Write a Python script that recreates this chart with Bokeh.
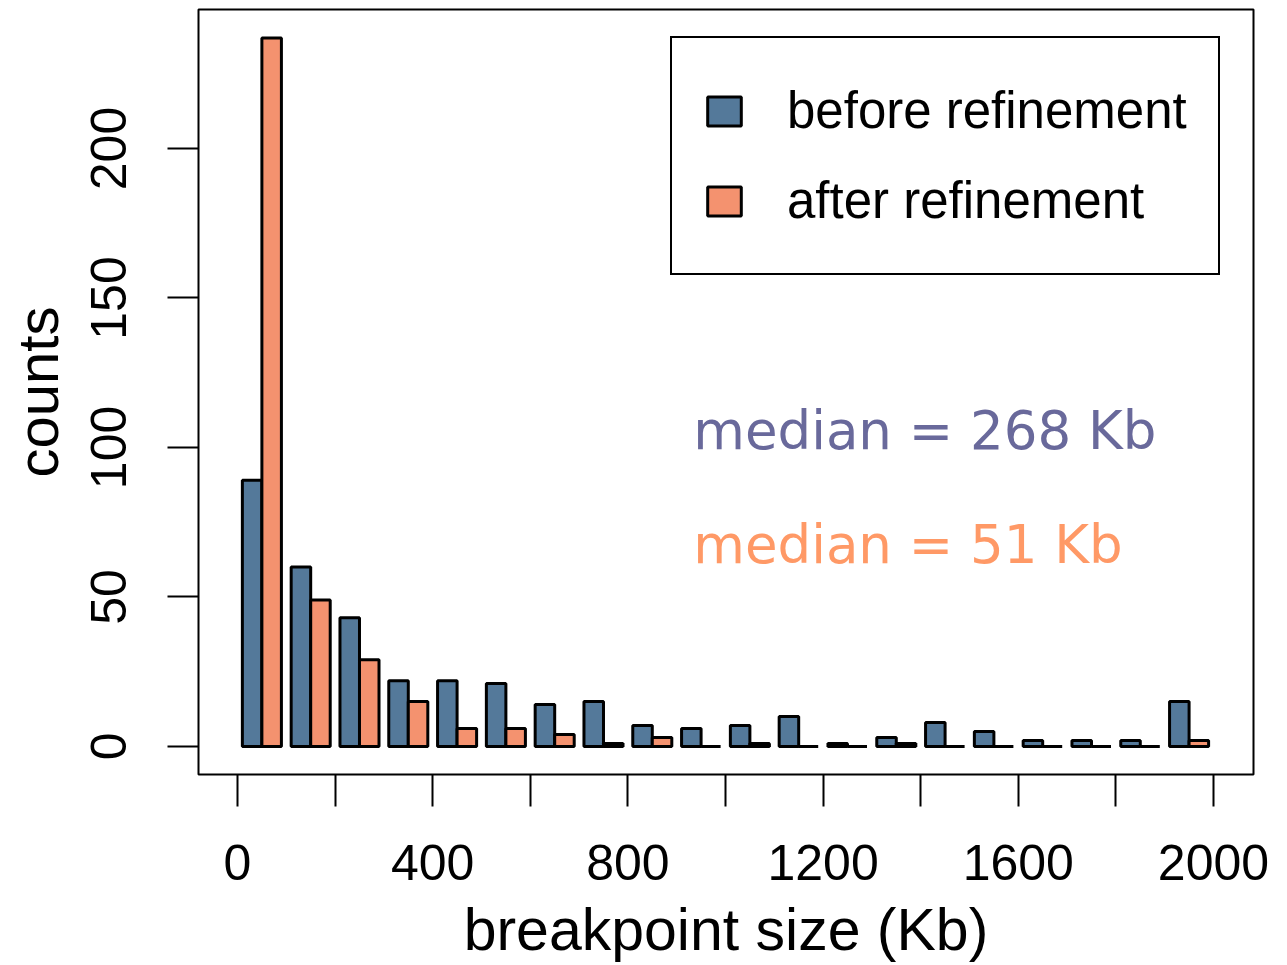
from bokeh.plotting import figure
from bokeh.models import Range1d, FixedTicker, Label
from bokeh.embed import file_html
from bokeh.resources import INLINE

# ---- data ----
bin_starts = list(range(0, 2000, 100))          # 100 Kb bins, 0..1900
before = [89, 60, 43, 22, 22, 21, 14, 15, 7, 6, 7, 10, 1, 3, 8, 5, 2, 2, 2, 15]
after = [237, 49, 29, 15, 6, 6, 4, 1, 3, 0, 1, 0, 0, 1, 0, 0, 0, 0, 0, 2]
x_ticks = list(range(0, 2001, 200))
x_labels = [0, 400, 800, 1200, 1600, 2000]
y_ticks = [0, 50, 100, 150, 200]
median_before = "median = 268 Kb"
median_after = "median = 51 Kb"

BLUE = "#54799a"
ORANGE = "#f4926f"
TXT_BLUE = "#69699b"
TXT_ORANGE = "#ff9966"
FONT = "Liberation Sans"

bar_w = 40
x_before = [b + 30 for b in bin_starts]
x_after = [b + 70 for b in bin_starts]

p = figure(width=1287, height=965, output_backend="svg", toolbar_location=None,
           x_range=Range1d(-79.9, 2082), y_range=Range1d(-9.4, 246.5),
           min_border_left=198, min_border_right=34, min_border_top=9, min_border_bottom=191)
p.background_fill_color = "white"
p.border_fill_color = "white"
p.outline_line_color = "black"
p.outline_line_width = 2
p.outline_line_alpha = 1
p.xgrid.visible = False
p.ygrid.visible = False

p.vbar(x=x_before, top=before, bottom=0, width=bar_w, fill_color=BLUE,
       line_color="black", line_width=3, legend_label="before refinement")
p.vbar(x=x_after, top=after, bottom=0, width=bar_w, fill_color=ORANGE,
       line_color="black", line_width=3, legend_label="after refinement")

# x axis
xa = p.xaxis[0]
xa.ticker = FixedTicker(ticks=x_ticks, minor_ticks=[])
xa.major_label_overrides = {t: (str(t) if t in x_labels else "") for t in x_ticks}
xa.axis_line_color = None
xa.major_tick_in = 0
xa.major_tick_out = 32
xa.major_tick_line_width = 2
xa.major_tick_line_color = "black"
xa.major_label_text_font = FONT
xa.major_label_text_font_size = "50px"
xa.major_label_text_color = "black"
xa.major_label_standoff = 38
xa.axis_label = "breakpoint size (Kb)"
xa.axis_label_text_font = FONT
xa.axis_label_text_font_size = "59px"
xa.axis_label_text_font_style = "normal"
xa.axis_label_text_color = "black"
xa.axis_label_standoff = 14

# y axis
ya = p.yaxis[0]
ya.ticker = FixedTicker(ticks=y_ticks, minor_ticks=[])
ya.axis_line_color = None
ya.major_tick_in = 0
ya.major_tick_out = 31
ya.major_tick_line_width = 2
ya.major_tick_line_color = "black"
ya.major_label_orientation = "vertical"
ya.major_label_text_font = FONT
ya.major_label_text_font_size = "50px"
ya.major_label_text_color = "black"
ya.major_label_standoff = 41
ya.axis_label = "counts"
ya.axis_label_text_font = FONT
ya.axis_label_text_font_size = "58px"
ya.axis_label_text_font_style = "normal"
ya.axis_label_text_color = "black"
ya.axis_label_standoff = 19

# legend
lg = p.legend[0]
lg.location = (472, 499)
lg.margin = 0
lg.padding = 31
lg.spacing = 7
lg.glyph_width = 42
lg.glyph_height = 36
lg.label_standoff = 42
lg.label_height = 83
lg.label_text_font = FONT
lg.label_text_font_size = "51px"
lg.label_text_color = "black"
lg.border_line_color = "black"
lg.border_line_alpha = 1
lg.border_line_width = 2
lg.background_fill_color = "white"
lg.background_fill_alpha = 1

# median annotations
p.add_layout(Label(x=934, y=105.7, text=median_before, text_font="DejaVu Sans",
                   text_font_size="53px", text_color=TXT_BLUE,
                   text_align="left", text_baseline="alphabetic"))
p.add_layout(Label(x=934, y=67.7, text=median_after, text_font="DejaVu Sans",
                   text_font_size="53px", text_color=TXT_ORANGE,
                   text_align="left", text_baseline="alphabetic"))

open("out.html", "w").write(file_html(p, INLINE))
